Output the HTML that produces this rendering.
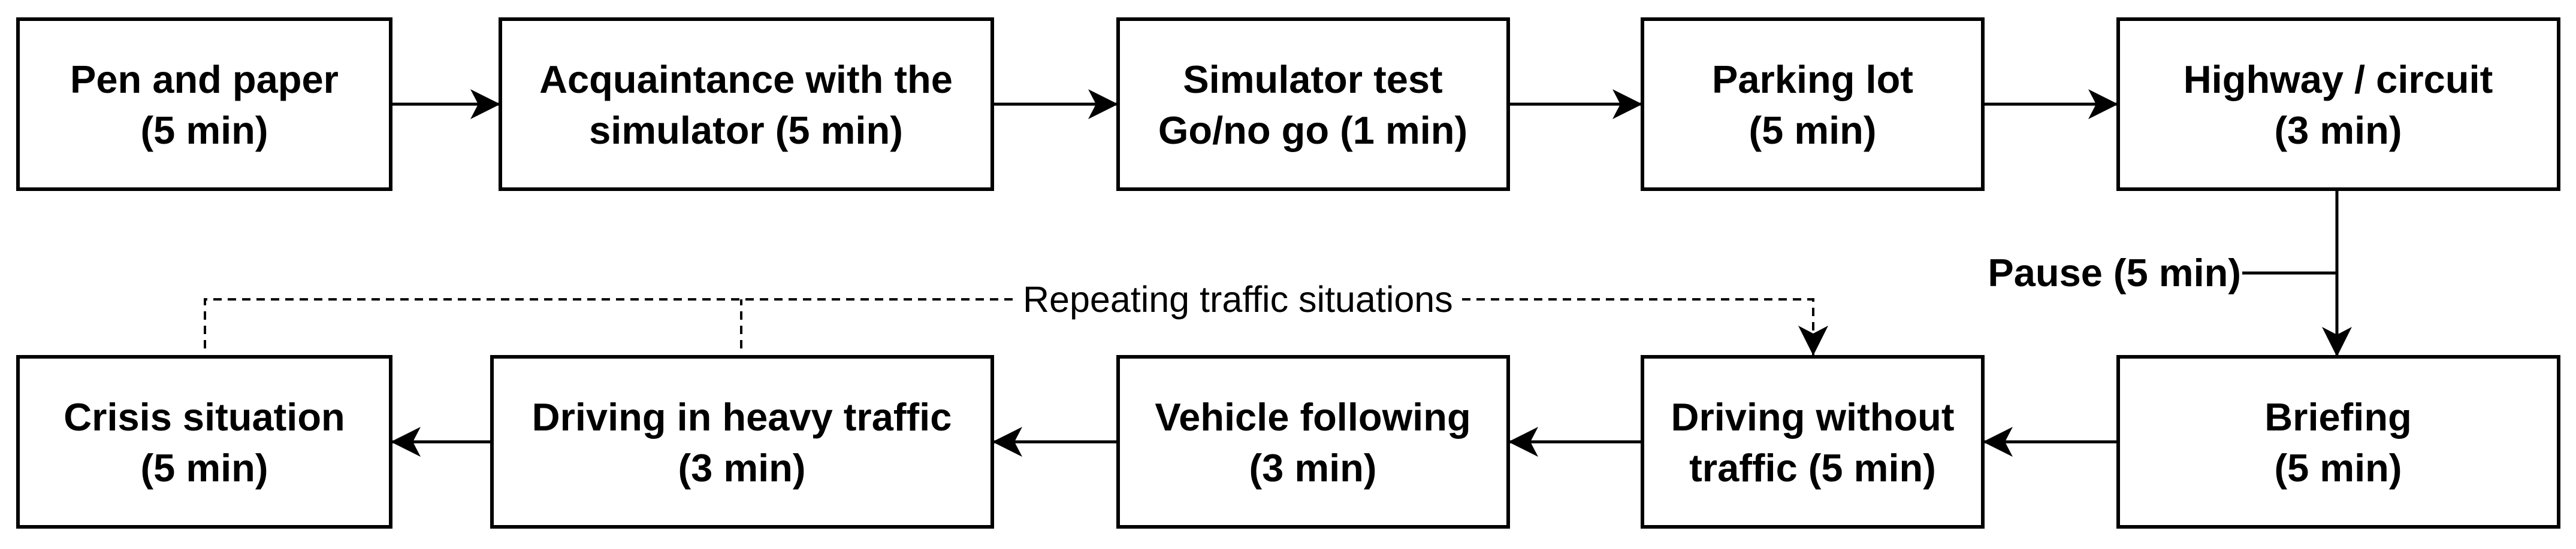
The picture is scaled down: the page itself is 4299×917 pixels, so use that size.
<!DOCTYPE html>
<html><head><meta charset="utf-8"><style>
html,body{margin:0;padding:0;background:#fff;}
svg{display:block;}
.b{font-family:"Liberation Sans",Arial,sans-serif;font-weight:bold;font-size:65px;text-anchor:middle;fill:#000;}
.r{font-family:"Liberation Sans",Arial,sans-serif;font-size:61px;fill:#000;}
</style></head><body>
<svg width="4299" height="917" viewBox="0 0 4299 917" xmlns="http://www.w3.org/2000/svg">
<defs>
<marker id="a" viewBox="0 0 50 50" refX="50" refY="25" markerWidth="50" markerHeight="50" markerUnits="userSpaceOnUse" orient="auto">
<path d="M0,0 L50,25 L0,50 L13,25 Z" fill="#000"/>
</marker>
</defs>
<g fill="#fff" stroke="#000" stroke-width="6">
<rect x="30" y="32" width="622" height="284"/>
<rect x="835" y="32" width="821" height="284"/>
<rect x="1866" y="32" width="651" height="284"/>
<rect x="2741" y="32" width="568" height="284"/>
<rect x="3535" y="32" width="735" height="284"/>
<rect x="30" y="596" width="622" height="284"/>
<rect x="821" y="596" width="835" height="284"/>
<rect x="1866" y="596" width="651" height="284"/>
<rect x="2741" y="596" width="568" height="284"/>
<rect x="3535" y="596" width="735" height="284"/>
</g>
<g stroke="#000" stroke-width="5" fill="none">
<line x1="652" y1="174" x2="835" y2="174" marker-end="url(#a)"/>
<line x1="1656" y1="174" x2="1866" y2="174" marker-end="url(#a)"/>
<line x1="2517" y1="174" x2="2741" y2="174" marker-end="url(#a)"/>
<line x1="3309" y1="174" x2="3535" y2="174" marker-end="url(#a)"/>
<line x1="3900" y1="316" x2="3900" y2="596" marker-end="url(#a)"/>
<line x1="3742" y1="456" x2="3900" y2="456"/>
<line x1="3535" y1="738" x2="3309" y2="738" marker-end="url(#a)"/>
<line x1="2741" y1="738" x2="2517" y2="738" marker-end="url(#a)"/>
<line x1="1866" y1="738" x2="1656" y2="738" marker-end="url(#a)"/>
<line x1="821" y1="738" x2="652" y2="738" marker-end="url(#a)"/>
</g>
<g stroke="#000" stroke-width="4" fill="none" stroke-dasharray="14,10">
<polyline points="342,582 342,500 1700,500"/>
<line x1="1237" y1="582" x2="1237" y2="500"/>
<polyline points="2440,500 3026,500 3026,594" marker-end="url(#a)"/>
</g>
<text class="r" x="1707" y="521">Repeating traffic situations</text>
<text class="b" x="3740" y="478" style="text-anchor:end">Pause (5 min)</text>
<g class="b">
<text x="341" y="155">Pen and paper</text><text x="341" y="240">(5 min)</text>
<text x="1245" y="155">Acquaintance with the</text><text x="1245" y="240">simulator (5 min)</text>
<text x="2191" y="155">Simulator test</text><text x="2191" y="240">Go/no go (1 min)</text>
<text x="3025" y="155">Parking lot</text><text x="3025" y="240">(5 min)</text>
<text x="3902" y="155">Highway / circuit</text><text x="3902" y="240">(3 min)</text>
<text x="341" y="719">Crisis situation</text><text x="341" y="804">(5 min)</text>
<text x="1238" y="719">Driving in heavy traffic</text><text x="1238" y="804">(3 min)</text>
<text x="2191" y="719">Vehicle following</text><text x="2191" y="804">(3 min)</text>
<text x="3025" y="719">Driving without</text><text x="3025" y="804">traffic (5 min)</text>
<text x="3902" y="719">Briefing</text><text x="3902" y="804">(5 min)</text>
</g>
</svg>
</body></html>
